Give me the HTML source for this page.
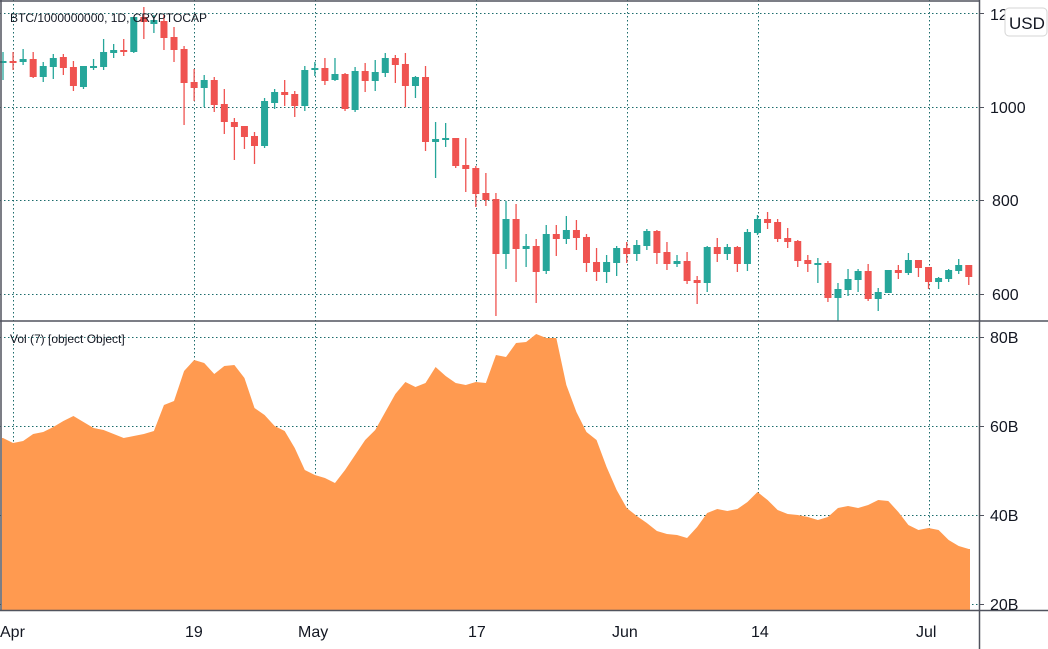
<!DOCTYPE html>
<html><head><meta charset="utf-8"><style>
body{margin:0;background:#fff;}
svg{display:block;font-family:"Liberation Sans",sans-serif;}
</style></head><body>
<svg id="s" width="1048" height="649" xmlns="http://www.w3.org/2000/svg">
<rect width="1048" height="649" fill="#fff"/>
<g stroke="#1b6b6b" stroke-width="1" stroke-dasharray="1.5,2.5" fill="none">
<line x1="0" y1="13.5" x2="979" y2="13.5"/><line x1="0" y1="107.5" x2="979" y2="107.5"/>
<line x1="0" y1="200.5" x2="979" y2="200.5"/><line x1="0" y1="294.5" x2="979" y2="294.5"/>
<line x1="0" y1="337.5" x2="979" y2="337.5"/><line x1="0" y1="426.5" x2="979" y2="426.5"/>
<line x1="0" y1="515.5" x2="979" y2="515.5"/><line x1="0" y1="604.5" x2="979" y2="604.5"/>
<line x1="13.5" y1="0" x2="13.5" y2="610"/><line x1="194.5" y1="0" x2="194.5" y2="610"/>
<line x1="315.5" y1="0" x2="315.5" y2="610"/><line x1="476.5" y1="0" x2="476.5" y2="610"/>
<line x1="627.5" y1="0" x2="627.5" y2="610"/><line x1="758.5" y1="0" x2="758.5" y2="610"/>
<line x1="929.5" y1="0" x2="929.5" y2="610"/>
</g>
<polygon id="vol" fill="#ff9a50"/>
<g id="c"></g>
<g stroke="#50535e" stroke-width="1.5" fill="none">
<line x1="0" y1="1" x2="979" y2="1"/><line x1="1" y1="0" x2="1" y2="610"/>
<line x1="979.5" y1="0" x2="979.5" y2="649"/>
<line x1="0" y1="321" x2="1048" y2="321"/>
<line x1="0" y1="610.5" x2="1048" y2="610.5"/>
</g>
<g stroke="#50535e" stroke-width="1">
<line x1="979" y1="13.5" x2="984" y2="13.5"/><line x1="979" y1="107.5" x2="984" y2="107.5"/>
<line x1="979" y1="200.5" x2="984" y2="200.5"/><line x1="979" y1="294.5" x2="984" y2="294.5"/>
<line x1="979" y1="337.5" x2="984" y2="337.5"/><line x1="979" y1="426.5" x2="984" y2="426.5"/>
<line x1="979" y1="515.5" x2="984" y2="515.5"/><line x1="979" y1="604.5" x2="984" y2="604.5"/>
</g>
<g fill="#131722" font-size="16">
<text x="990" y="20">1200</text>
<text x="990" y="113">1000</text><text x="992" y="206">800</text><text x="992" y="300">600</text>
<text x="990" y="343">80B</text><text x="990" y="432">60B</text><text x="990" y="521">40B</text><text x="990" y="610">20B</text>
<text x="0" y="637">Apr</text><text x="185" y="637">19</text><text x="298" y="637">May</text>
<text x="468" y="637">17</text><text x="612" y="637">Jun</text><text x="751" y="637">14</text><text x="916" y="637">Jul</text>
</g>
<rect x="1005" y="8" width="42" height="28" rx="4" fill="#fff" stroke="#d5d5d5"/>
<text x="1009" y="29" font-size="17" fill="#131722">USD</text>
<text x="10" y="22" font-size="12" fill="#131722">BTC/1000000000, 1D, CRYPTOCAP</text>
<text x="10" y="343" font-size="12" fill="#131722">Vol (7) [object Object]</text>
</svg>
<script>
var d=[
[1,61,61,52,80],[0,61,61,52,70],[1,62,59,49,65],[0,59,77,52,78],[1,77,66,62,82],[1,67,58,54,79],[0,57,68,54,75],[0,67,86,61,91],[1,87,66,66,89],[1,68,66,59,70],
[1,67,52,39,70],[1,53,50,44,58],[0,50,52,39,56],[1,52,17,17,53],[0,17,22,7,39],[1,24,20,15,33],[0,21,38,15,50],[0,37,50,27,62],[0,49,83,46,125],[0,82,88,69,101],
[1,88,80,75,107],[0,80,105,77,112],[0,104,122,89,134],[0,122,127,118,160],[0,126,137,127,149],[0,136,146,132,164],[1,146,101,98,148],[1,103,92,89,109],[0,92,95,80,106],[0,94,106,91,117],
[1,106,70,66,111],[1,70,68,62,76],[0,68,81,58,85],[1,80,74,58,81],[0,74,109,73,111],[1,110,71,67,112],[0,71,81,63,92],[1,81,72,60,91],[1,73,58,53,77],[0,58,65,55,83],
[0,64,86,53,107],[1,86,77,76,98],[0,77,142,66,151],[1,142,139,122,178],[1,140,138,123,147],[0,138,166,138,168],[0,165,169,138,192],[0,168,194,166,207],[0,193,200,173,206],[0,199,254,193,316],
[1,254,219,201,269],[0,219,249,204,282],[1,249,246,234,267],[0,246,272,239,303],[1,271,234,225,274],[0,234,239,225,256],[1,239,230,216,244],[0,230,238,220,250],[0,237,263,234,272],[0,262,272,248,281],
[1,272,262,255,283],[1,263,248,246,276],[0,248,254,242,263],[1,254,245,240,261],[1,246,231,229,250],[0,231,253,230,264],[0,252,264,242,270],[1,264,261,255,267],[0,261,281,252,284],[0,280,283,276,304],
[1,283,247,246,292],[0,247,254,238,262],[1,254,247,244,260],[0,247,264,246,272],[1,264,232,229,271],[1,233,219,215,235],[0,219,223,212,229],[0,222,239,219,242],[0,238,242,228,248],[0,241,261,240,267],
[0,260,264,255,272],[1,263,263,258,283],[0,263,298,261,302],[1,298,289,283,321],[1,290,279,269,296],[1,280,271,269,292],[0,271,299,264,301],[1,299,292,288,311],[1,293,270,270,293],[0,270,273,265,279],
[1,273,260,253,275],[0,260,268,260,277],[0,267,282,267,289],[1,282,278,277,289],[1,279,270,269,282],[1,271,265,259,274],[0,265,277,265,285]];
var v=[438,443,441,434,432,427,421,416,422,428,430,434,438,436,434,431,405,401,371,360,363,374,366,365,378,408,415,426,431,448,470,475,478,483,470,455,440,430,412,394,382,387,383,367,376,383,385,382,383,355,357,343,342,334,338,338,385,412,432,440,467,490,508,516,523,531,534,535,538,527,513,509,511,509,502,492,500,510,514,515,517,520,517,508,506,508,505,500,501,512,525,530,528,530,540,546,549];
var X=function(i){return 3+i*10.06;};
var h='',p=[];
for(var i=0;i<d.length;i++){var c=d[i],x=X(i),col=c[0]?'#26a69a':'#ef5350';
var t=Math.min(c[1],c[2]),b=Math.max(c[1],c[2]);if(b-t<2)b=t+2;
h+='<line x1="'+x+'" x2="'+x+'" y1="'+c[3]+'" y2="'+c[4]+'" stroke="'+col+'" stroke-width="1.3"/>';
h+='<rect x="'+(x-3.5)+'" y="'+t+'" width="7" height="'+(b-t)+'" fill="'+col+'"/>';}
document.getElementById('c').innerHTML=h;
p.push('2,610');p.push('2,'+v[0]);
for(var i=0;i<v.length;i++)p.push(X(i)+','+v[i]);
p.push('970,'+v[v.length-1]);p.push('970,610');
document.getElementById('vol').setAttribute('points',p.join(' '));
</script>
</body></html>
